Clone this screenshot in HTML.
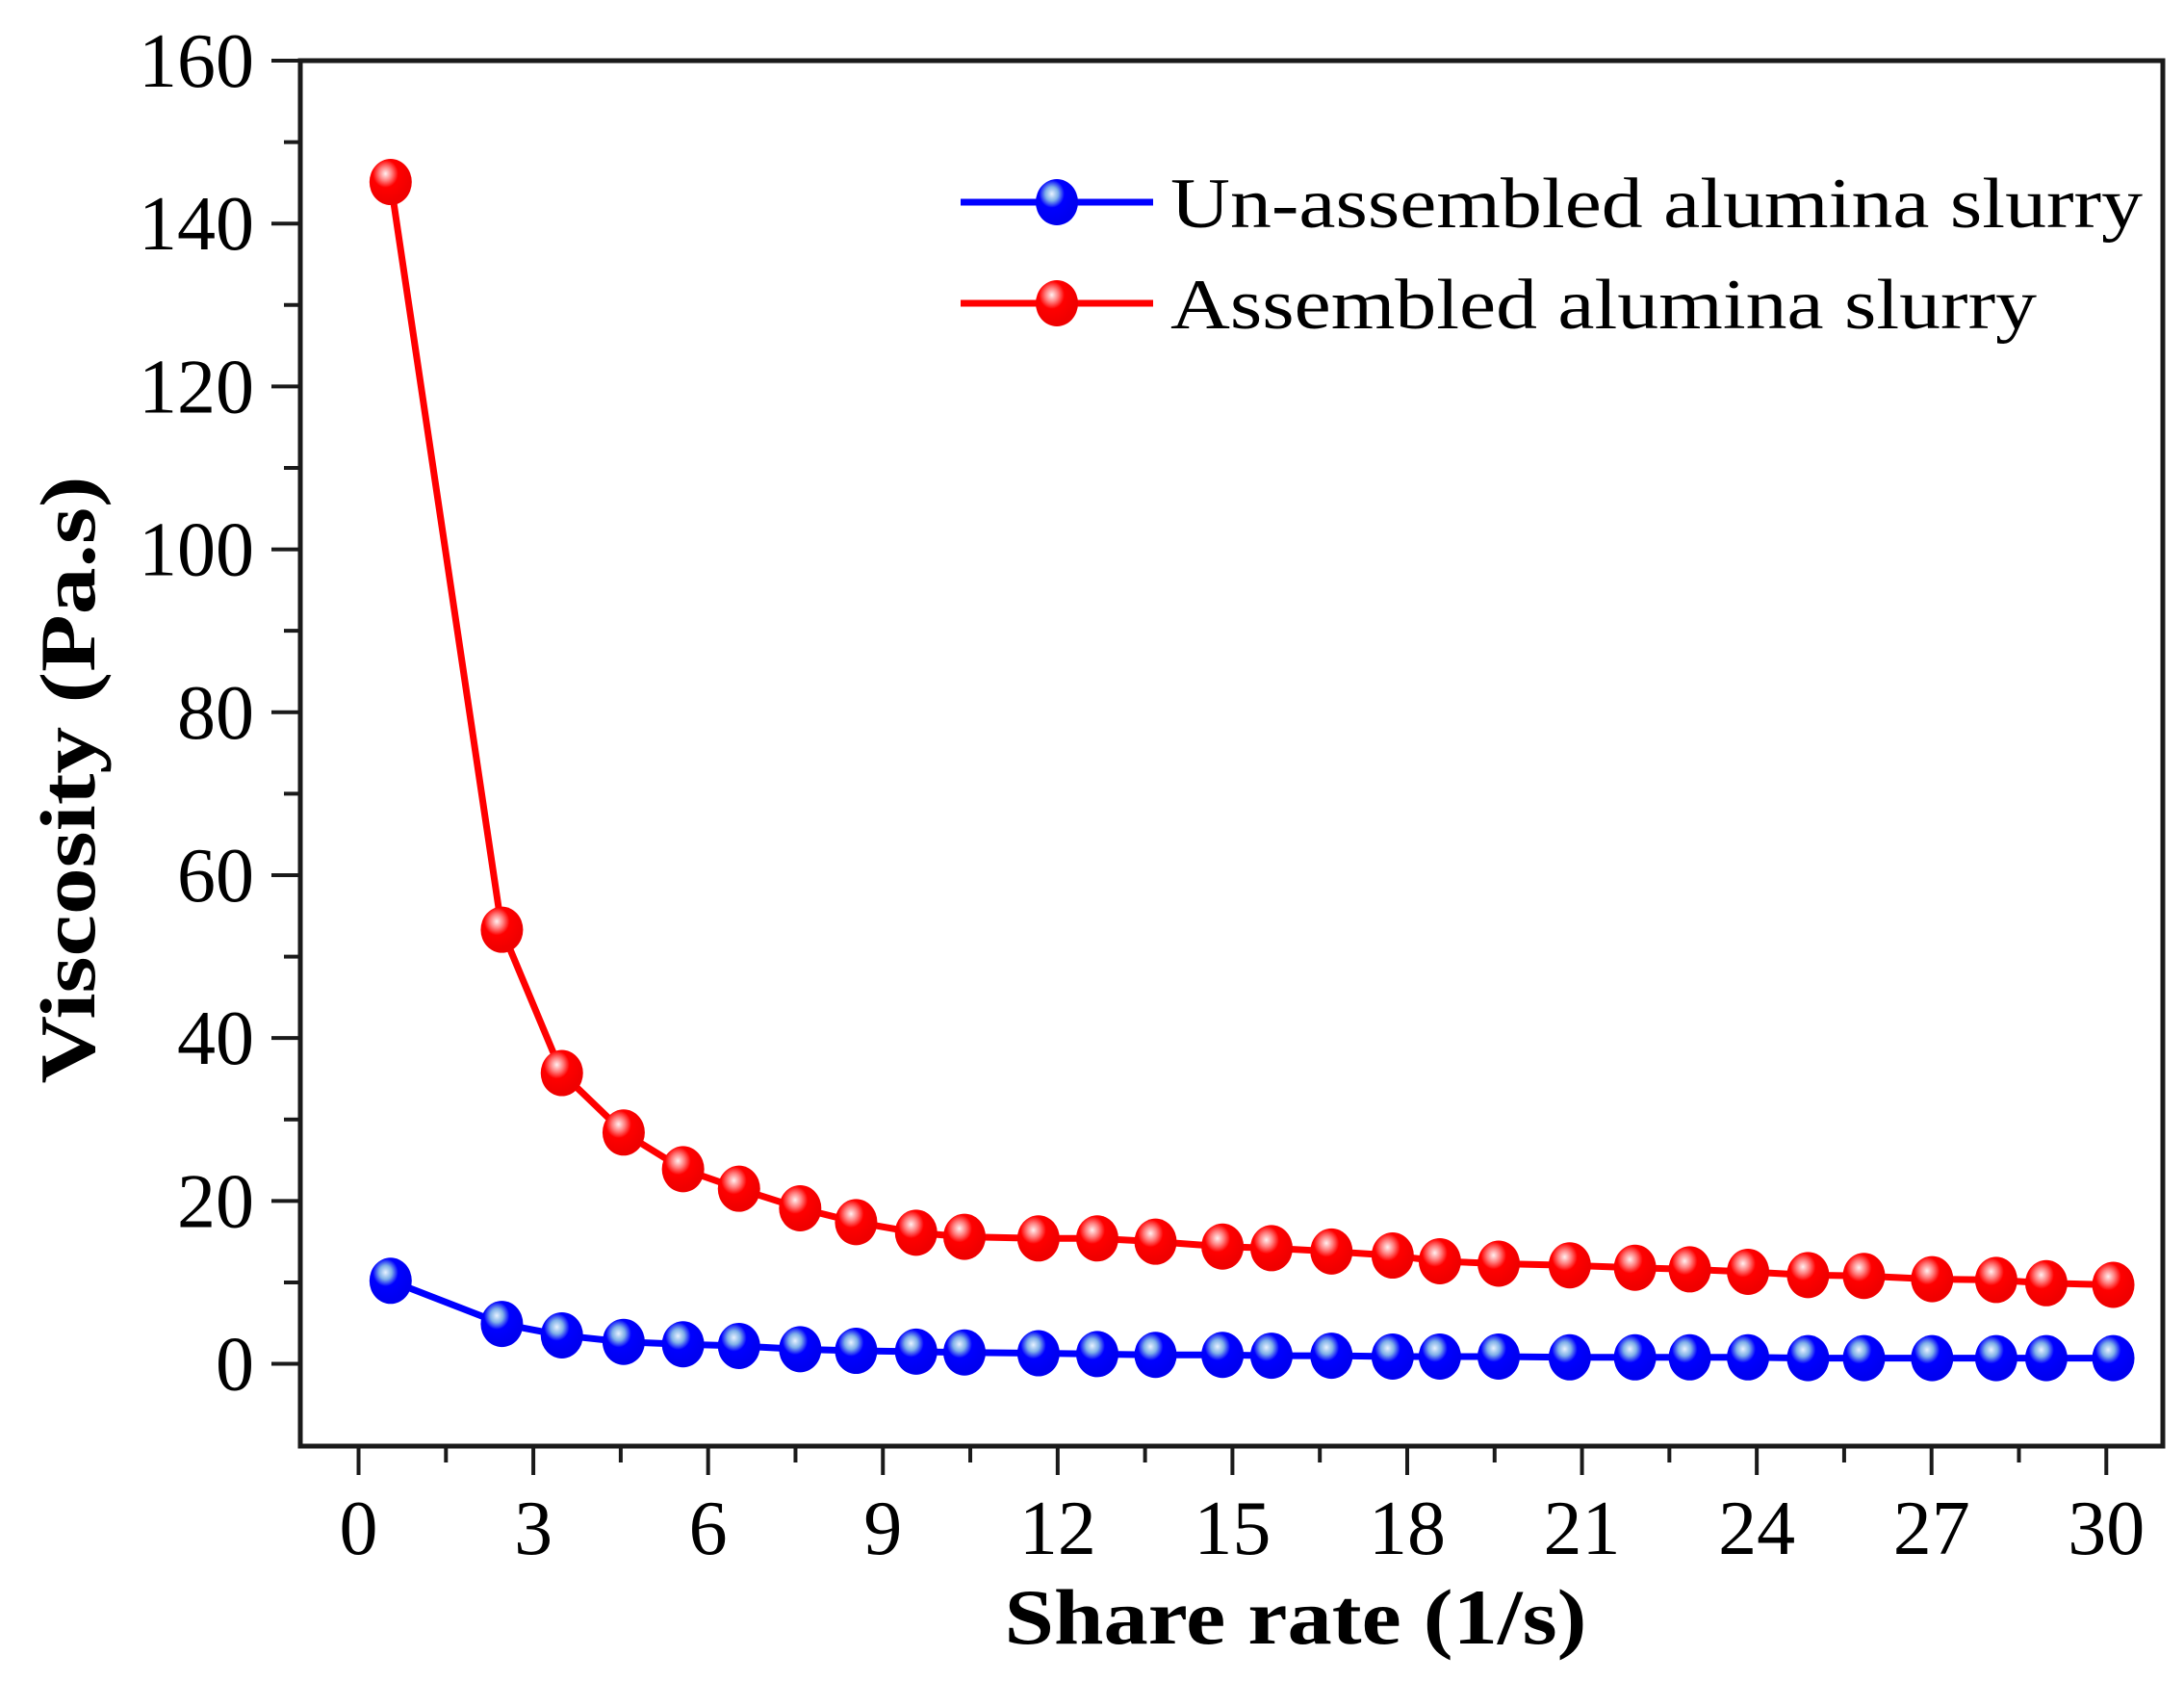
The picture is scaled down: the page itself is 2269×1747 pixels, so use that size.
<!DOCTYPE html>
<html><head><meta charset="utf-8"><style>
html,body{margin:0;padding:0;background:#fff;}
svg{display:block;}
text{font-family:"Liberation Serif","Times New Roman",serif;fill:#000;}
</style></head><body>
<svg id="chart" width="2269" height="1747" viewBox="0 0 2269 1747" xmlns="http://www.w3.org/2000/svg">
<defs>
<radialGradient id="gb" cx="0.38" cy="0.32" r="0.6"><stop offset="0" stop-color="#e8f2ff"/><stop offset="0.25" stop-color="#7fb0e8"/><stop offset="0.5" stop-color="#0000ff"/><stop offset="1" stop-color="#0000f0"/></radialGradient>
<radialGradient id="gr" cx="0.38" cy="0.32" r="0.6"><stop offset="0" stop-color="#fff0f0"/><stop offset="0.25" stop-color="#ff8080"/><stop offset="0.5" stop-color="#ff0000"/><stop offset="1" stop-color="#f00000"/></radialGradient>
</defs>
<g id="axes"></g>
<g id="series"></g>
<g id="legend">
<line x1="998" y1="210" x2="1198" y2="210" stroke="#0000ff" stroke-width="7"/>
<ellipse cx="1098" cy="210" rx="22" ry="24" fill="url(#gb)"/>
<text x="1216" y="236" font-size="74" textLength="1010" lengthAdjust="spacingAndGlyphs">Un-assembled alumina slurry</text>
<line x1="998" y1="315" x2="1198" y2="315" stroke="#ff0000" stroke-width="7"/>
<ellipse cx="1098" cy="315" rx="22" ry="24" fill="url(#gr)"/>
<text x="1216" y="341" font-size="74" textLength="900" lengthAdjust="spacingAndGlyphs">Assembled alumina slurry</text>
</g>
<text x="1346" y="1707" font-size="82" font-weight="bold" text-anchor="middle" textLength="605" lengthAdjust="spacingAndGlyphs">Share rate (1/s)</text>
<text transform="translate(98,810) rotate(-90)" x="0" y="0" font-size="82" font-weight="bold" text-anchor="middle" textLength="631" lengthAdjust="spacingAndGlyphs">Viscosity (Pa.s)</text>
</svg>
<script>
const shearRate = [0.55,2.46,3.49,4.55,5.57,6.53,7.58,8.54,9.57,10.4,11.67,12.68,13.68,14.83,15.67,16.7,17.75,18.56,19.57,20.79,21.91,22.85,23.85,24.88,25.84,27.01,28.11,28.97,30.12];
const assembled = [145.1,53.3,35.7,28.4,23.9,21.5,19.1,17.4,16.1,15.6,15.4,15.4,15.0,14.4,14.2,13.8,13.3,12.6,12.3,12.1,11.8,11.6,11.3,10.9,10.8,10.4,10.3,9.9,9.7];
const unassembled = [10.2,4.9,3.5,2.7,2.4,2.2,1.8,1.6,1.5,1.4,1.3,1.2,1.1,1.1,1.0,1.0,0.9,0.9,0.9,0.8,0.8,0.8,0.8,0.7,0.7,0.7,0.7,0.7,0.7];
const xTicks = [0,3,6,9,12,15,18,21,24,27,30];
const yTicks = [0,20,40,60,80,100,120,140,160];

const NS="http://www.w3.org/2000/svg";
const L=312,R=2247,T=63,B=1502;
const xMin=-1.0,xMax=30.97,yMin=-10.1,yMax=160;
const xs=v=>L+(v-xMin)/(xMax-xMin)*(R-L);
const ys=v=>B-(v-yMin)/(yMax-yMin)*(B-T);
function mk(tag,attrs,parent){const e=document.createElementNS(NS,tag);for(const k in attrs)e.setAttribute(k,attrs[k]);parent.appendChild(e);return e;}
const axes=document.getElementById('axes');
const frame=mk('rect',{x:L,y:T,width:R-L,height:B-T,fill:'none',stroke:'#1a1a1a','stroke-width':5},axes);


for(let v=0;v<=30;v+=1.5){
  const major=Math.abs(v%3)<1e-9;
  const t=mk('line',{x1:xs(v),x2:xs(v),y1:B,y2:B+(major?30:17),stroke:'#1a1a1a','stroke-width':4},axes);
  
  
}
xTicks.forEach(v=>{
  const t=mk('text',{x:xs(v),y:1614,'font-size':80,'text-anchor':'middle'},axes);
  t.textContent=String(v);
  
  
});
for(let v=0;v<=160;v+=10){
  const major=v%20===0;
  const t=mk('line',{x1:L,x2:L-(major?30:17),y1:ys(v),y2:ys(v),stroke:'#1a1a1a','stroke-width':4},axes);
  
  
}
yTicks.forEach(v=>{
  const t=mk('text',{x:264,y:ys(v)+27,'font-size':80,'text-anchor':'end'},axes);
  t.textContent=String(v);
  
  
});
const series=document.getElementById('series');
function draw(vals,color,grad,name){
  const g=mk('g',{},series);
  
  
  const pts=shearRate.map((x,i)=>xs(x)+','+ys(vals[i])).join(' ');
  const pl=mk('polyline',{points:pts,fill:'none',stroke:color,'stroke-width':7,'stroke-linejoin':'round'},g);
  
  
  shearRate.forEach((x,i)=>{
    const c=mk('ellipse',{cx:xs(x),cy:ys(vals[i]),rx:22,ry:24,fill:'url(#'+grad+')'},g);
    
    
  });
}
draw(assembled,'#ff0000','gr','assembled');
draw(unassembled,'#0000ff','gb','unassembled');
</script>
</body></html>
